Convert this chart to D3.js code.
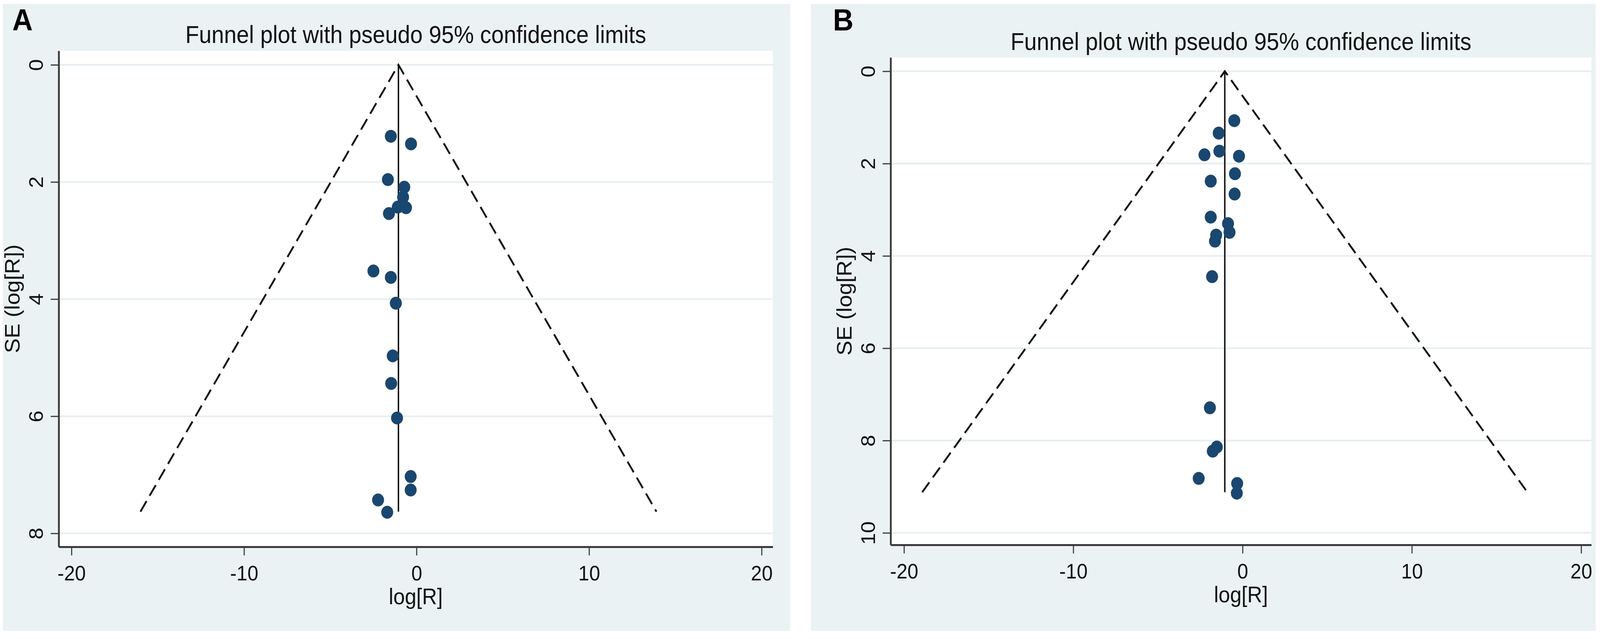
<!DOCTYPE html>
<html>
<head>
<meta charset="utf-8">
<script src="https://cdn.jsdelivr.net/npm/d3@7"></script>
<style>
  html, body { margin: 0; padding: 0; overflow: hidden; background: #ffffff; }
  svg { display: block; width: 100vw; height: 100vh; font-family: "Liberation Sans", Arial, sans-serif; }
</style>
</head>
<body>
<svg id="funnel-svg" viewBox="0 0 4414 1636" preserveAspectRatio="none"></svg>
<script>
// Data
const chartTitle = "Funnel plot with pseudo 95% confidence limits";
const xLabel = "log[R]";
const yLabel = "SE (log[R])";
const xTicks = [-20, -10, 0, 10, 20];

// Panel A
const yTicksA = [0, 2, 4, 6, 8];
const logRA = [-1.49, -0.32, -1.66, -0.71, -0.78, -0.61, -1.09, -1.60, -2.50, -1.49, -1.20, -1.38, -1.47, -1.13, -0.34, -0.34, -2.23, -1.70];
const seA   = [ 1.22,  1.35,  1.96,  2.09,  2.26,  2.44,  2.43,  2.54,  3.52,  3.63,  4.07,  4.97,  5.44,  6.03,  7.03,  7.26,  7.43,  7.64];
const pooledA = -1.05;
const seMaxA = 7.63;

// Panel B
const yTicksB = [0, 2, 4, 6, 8, 10];
const logRB = [-0.49, -1.41, -2.25, -1.37, -0.21, -0.45, -1.88, -0.47, -1.88, -0.86, -0.77, -1.56, -1.63, -1.80, -1.93, -1.52, -1.76, -2.59, -0.32, -0.34];
const seB   = [ 1.07,  1.34,  1.81,  1.73,  1.84,  2.22,  2.38,  2.66,  3.16,  3.30,  3.49,  3.55,  3.68,  4.45,  7.29,  8.14,  8.23,  8.82,  8.93,  9.14];
const pooledB = -1.05;
const seMaxB = 9.12;

// Stata s2color look
const colors = {
    background: "#EAF2F3",
    plot: "#ffffff",
    grid: "#E6EEEF",
    marker: "#1A476F",
    axis: "#3a3a3a",
    line: "#111111",
    text: "#111111"
};

// Draws one funnel panel
function createFunnelPlot(svg, panel) {
    const g = svg.append("g");

    // Grey-blue background of the graph region
    g.append("rect")
        .attr("x", panel.bg.x).attr("y", panel.bg.y)
        .attr("width", panel.bg.w).attr("height", panel.bg.h)
        .attr("fill", colors.background);

    // White plot region
    g.append("rect")
        .attr("x", panel.plot.left).attr("y", panel.plot.top)
        .attr("width", panel.plot.right - panel.plot.left)
        .attr("height", panel.plot.bottom - panel.plot.top)
        .attr("fill", colors.plot);

    const x = d3.scaleLinear().domain(panel.xDomain).range([panel.plot.left, panel.plot.right]);
    const y = d3.scaleLinear().domain(panel.yDomain).range([panel.plot.top, panel.plot.bottom]);

    // Horizontal grid lines
    g.selectAll(".grid")
        .data(panel.yTicks)
        .enter().append("line")
        .attr("x1", panel.plot.left).attr("x2", panel.plot.right)
        .attr("y1", d => y(d)).attr("y2", d => y(d))
        .attr("stroke", colors.grid)
        .attr("stroke-width", 4);

    // Pseudo 95% confidence limits
    const line = d3.line().x(d => x(d[0])).y(d => y(d[1]));
    const half = 1.96 * panel.seMax;
    g.append("path")
        .attr("d", line([[panel.pooled - half, panel.seMax], [panel.pooled, 0], [panel.pooled + half, panel.seMax]]))
        .attr("fill", "none")
        .attr("stroke", colors.line)
        .attr("stroke-width", 5)
        .attr("stroke-dasharray", "32,16");

    // Pooled estimate line
    g.append("path")
        .attr("d", line([[panel.pooled, 0], [panel.pooled, panel.seMax]]))
        .attr("stroke", colors.line)
        .attr("stroke-width", 4);

    // Study points
    const points = panel.logR.map((v, i) => ({ logR: v, se: panel.se[i] }));
    g.selectAll(".dot")
        .data(points)
        .enter().append("circle")
        .attr("cx", d => x(d.logR))
        .attr("cy", d => y(d.se))
        .attr("r", 16.5)
        .attr("fill", colors.marker);

    // Y axis, tick labels rotated like Stata does
    const yAxis = g.append("g")
        .attr("transform", `translate(${panel.plot.left},0)`)
        .call(d3.axisLeft(y).tickValues(panel.yTicks).tickFormat(d => String(d)).tickSize(22).tickSizeOuter(0));
    yAxis.selectAll("text")
        .attr("x", null).attr("dy", null)
        .attr("text-anchor", "middle")
        .attr("transform", "translate(-43,0) rotate(-90)");

    // X axis (plain hyphen for negatives, as in the original)
    const xAxis = g.append("g")
        .attr("transform", `translate(0,${panel.plot.bottom})`)
        .call(d3.axisBottom(x).tickValues(xTicks).tickFormat(d => String(d)).tickSize(22).tickSizeOuter(0));
    xAxis.selectAll("text")
        .attr("y", 86).attr("dy", null);

    [yAxis, xAxis].forEach(ax => {
        ax.select(".domain").attr("stroke", colors.axis).attr("stroke-width", 5);
        ax.selectAll(".tick line").attr("stroke", colors.axis).attr("stroke-width", 3);
        ax.selectAll("text")
            .attr("fill", colors.text)
            .style("font-size", "54px")
            .style("font-family", "'Liberation Sans', Arial, sans-serif");
    });

    // Axis titles
    g.append("text")
        .attr("x", (panel.plot.left + panel.plot.right) / 2)
        .attr("y", panel.plot.bottom + 147)
        .attr("text-anchor", "middle")
        .style("font-size", "57px")
        .attr("fill", colors.text)
        .text(xLabel);

    g.append("text")
        .attr("transform", `translate(${panel.plot.left - 108},${(panel.plot.top + panel.plot.bottom) / 2}) rotate(-90)`)
        .attr("text-anchor", "middle")
        .style("font-size", "57px")
        .attr("fill", colors.text)
        .text(yLabel);

    // Chart title
    g.append("text")
        .attr("x", (panel.plot.left + panel.plot.right) / 2)
        .attr("y", panel.titleY)
        .attr("text-anchor", "middle")
        .style("font-size", "62px")
        .attr("fill", colors.text)
        .text(chartTitle);

    // Panel letter
    g.append("text")
        .attr("x", panel.letterX)
        .attr("y", 78)
        .style("font-size", "78px")
        .style("font-weight", "bold")
        .attr("fill", "#000")
        .text(panel.letter);
}

const svg = d3.select("#funnel-svg");

createFunnelPlot(svg, {
    letter: "A",
    letterX: 34,
    titleY: 110,
    bg: { x: 8, y: 10, w: 2172, h: 1605 },
    plot: { left: 162, right: 2132, top: 130, bottom: 1400 },
    xDomain: [-20.74, 20.65],
    yDomain: [-0.24, 8.23],
    yTicks: yTicksA,
    logR: logRA,
    se: seA,
    pooled: pooledA,
    seMax: seMaxA
});

createFunnelPlot(svg, {
    letter: "B",
    letterX: 2298,
    titleY: 128,
    bg: { x: 2237, y: 10, w: 2165, h: 1605 },
    plot: { left: 2457, right: 4390, top: 147, bottom: 1395 },
    xDomain: [-20.79, 20.6],
    yDomain: [-0.30, 10.26],
    yTicks: yTicksB,
    logR: logRB,
    se: seB,
    pooled: pooledB,
    seMax: seMaxB
});
</script>
</body>
</html>
